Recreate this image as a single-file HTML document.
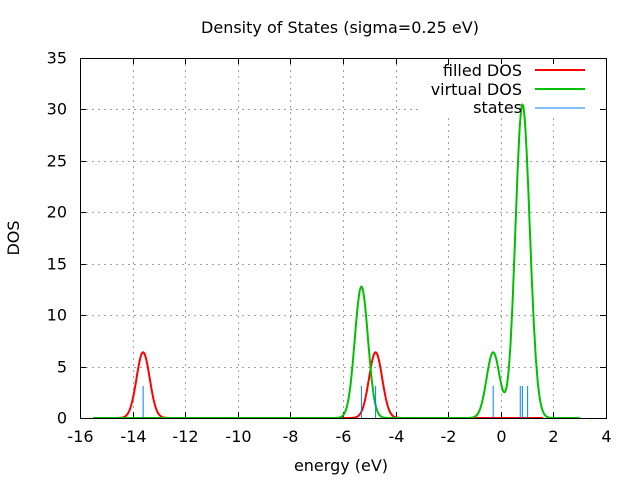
<!DOCTYPE html>
<html><head><meta charset="utf-8"><style>
body{margin:0;background:#fff}
text{font-family:"DejaVu Sans","Liberation Sans",sans-serif;font-size:16px;fill:#000}
</style></head><body>
<svg id="s" width="640" height="480" xmlns="http://www.w3.org/2000/svg">
<rect width="640" height="480" fill="#fff"/>
<g id="grid" stroke="#a0a0a0" stroke-dasharray="2,4" stroke-width="1"></g>
<rect x="420" y="60" width="180" height="55" fill="#fff"/>
<g id="ticks" stroke="#000" stroke-width="1"></g>
<g id="labels"></g>
<g id="curves" fill="none"></g>
<rect x="80.5" y="58.5" width="526" height="360" fill="none" stroke="#000"/>
<text x="340" y="33" text-anchor="middle">Density of States (sigma=0.25 eV)</text>
<text x="341" y="471" text-anchor="middle">energy (eV)</text>
<text transform="translate(19,238) rotate(-90)" text-anchor="middle">DOS</text>
<text x="522" y="76" text-anchor="end">filled DOS</text>
<line x1="535" y1="70" x2="585" y2="70" stroke="#ff0000" stroke-width="2"/>
<text x="522" y="95" text-anchor="end">virtual DOS</text>
<line x1="535" y1="89" x2="585" y2="89" stroke="#00c000" stroke-width="2"/>
<text x="522" y="113" text-anchor="end">states</text>
<line x1="535" y1="108" x2="585" y2="108" stroke="#0080ff" stroke-width="1"/>
</svg>
<script>
const X=e=>80+(e+16)*26.3, Y=v=>418-v*360/35;
const ns="http://www.w3.org/2000/svg";
function el(p,t,a,txt){const n=document.createElementNS(ns,t);for(const k in a)n.setAttribute(k,a[k]);if(txt!=null)n.textContent=txt;document.getElementById(p).appendChild(n);return n;}
for(let e=-16;e<=4;e+=2){const x=Math.round(X(e))+.5;
 if(e>-16&&e<4)el("grid","line",{x1:x,y1:58,x2:x,y2:418});
 el("ticks","line",{x1:x,y1:418,x2:x,y2:412});el("ticks","line",{x1:x,y1:58,x2:x,y2:64});
 el("labels","text",{x:x,y:442,"text-anchor":"middle"},e);}
for(let v=0;v<=35;v+=5){const y=Math.round(Y(v))+.5;
 if(v>0&&v<35)el("grid","line",{x1:80,y1:y,x2:606,y2:y});
 el("ticks","line",{x1:80,y1:y,x2:86,y2:y});el("ticks","line",{x1:606,y1:y,x2:600,y2:y});
 el("labels","text",{x:67,y:y+5,"text-anchor":"end"},v);}
const A=4/(0.25*Math.sqrt(2*Math.PI));
const filled=[[-13.6,1],[-4.76,1]], virt=[[-5.3,2],[-0.29,1],[0.74,2],[0.82,2],[1.02,1.2]];
function dos(st,e){let s=0;for(const[c,w]of st)s+=w*A*Math.exp(-(e-c)*(e-c)/0.125);return s;}
function path(st,a,b,col){let d="";for(let e=a;e<=b+1e-9;e+=0.02){d+=(d?"L":"M")+X(e).toFixed(1)+","+Y(dos(st,e)).toFixed(1);}
 el("curves","path",{d:d,stroke:col,"stroke-width":2});}
path(filled,-15.5,1.6,"#ff0000");
path(virt,-15.5,3,"#00c000");
for(const e of [-13.6,-5.3,-4.76,-0.29,0.74,0.82,1.02]){const x=X(e);
 el("curves","line",{x1:x,y1:386,x2:x,y2:418,stroke:"#0080ff","stroke-width":1});}
</script>
</body></html>
